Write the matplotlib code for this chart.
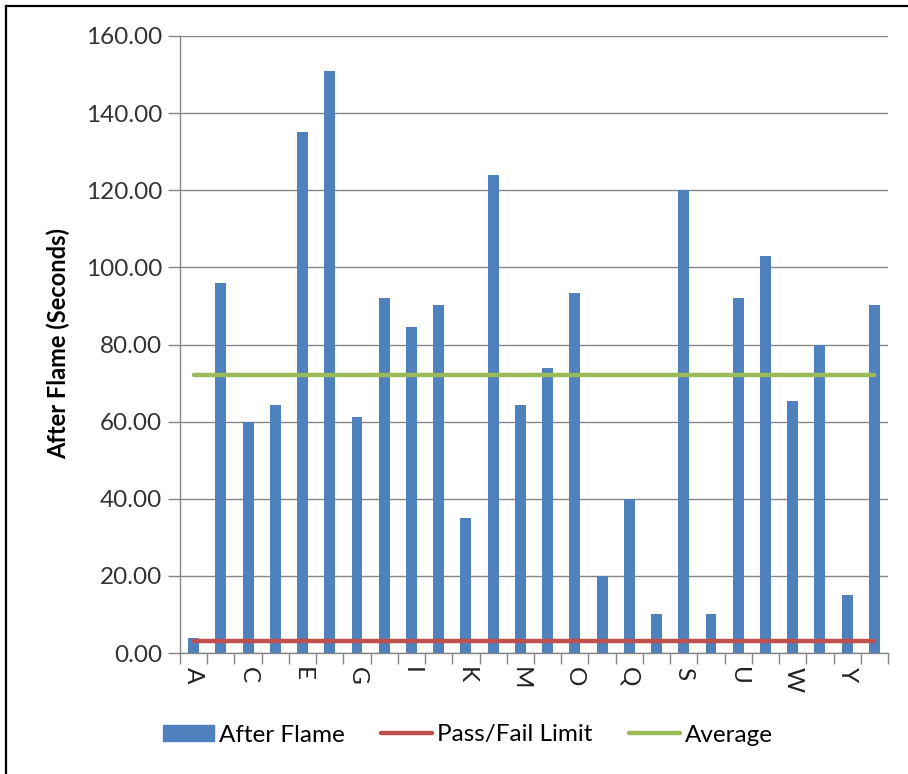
import matplotlib
matplotlib.use("Agg")
import matplotlib.pyplot as plt
from matplotlib.lines import Line2D
from matplotlib.patches import Patch
import numpy as np

plt.rcParams["font.family"] = ["Lato", "DejaVu Sans"]

# data
categories = list("ABCDEFGHIJKLMNOPQRSTUVWXYZ")
after_flame = [4, 96, 60, 64.2, 135, 151, 61.2, 92, 84.6, 90.3,
               35, 124, 64.2, 74, 93.3, 20, 40, 10, 120, 10,
               92, 103, 65.4, 80, 15, 90.3]
pass_fail_limit = 3.0
average = 72.0
yticks = [0, 20, 40, 60, 80, 100, 120, 140, 160]

W, H = 908, 774
fig = plt.figure(figsize=(W / 100, H / 100), dpi=100)
ax = fig.add_axes([180 / W, (H - 653) / H, 708 / W, 617 / H])

x = np.arange(len(categories))
blue, red, green, grey = "#4F81BD", "#C0504D", "#9BBB59", "#868686"
fs = 17.5

ax.bar(x, after_flame, width=0.4, color=blue, zorder=2)
ax.plot([x[0], x[-1]], [pass_fail_limit] * 2, color=red, lw=3.2,
        solid_capstyle="round", zorder=3)
ax.plot([x[0], x[-1]], [average] * 2, color=green, lw=3.2,
        solid_capstyle="round", zorder=3)

ax.set_xlim(-0.5, len(categories) - 0.5)
ax.set_ylim(0, 160)
ax.set_yticks(yticks)
ax.set_yticklabels([f"{v:.2f}" for v in yticks], fontsize=fs, color="#333333")
ax.yaxis.grid(True, color=grey, lw=1)
ax.set_axisbelow(True)
ax.tick_params(axis="y", length=9, color=grey, width=1, pad=4)

# labels on every other category, tick marks between categories
ax.set_xticks(x[::2])
ax.set_xticklabels(categories[::2], rotation=-90, fontsize=fs, color="#222222")
ax.tick_params(axis="x", which="major", length=0, pad=10)
ax.set_xticks(np.arange(-0.5, len(categories), 1), minor=True)
ax.tick_params(axis="x", which="minor", length=8, color=grey, width=1)

for s in ["top", "right"]:
    ax.spines[s].set_visible(False)
for s in ["left", "bottom"]:
    ax.spines[s].set_color(grey)
    ax.spines[s].set_linewidth(1)

fig.text(58 / W, 1 - 343 / H, "After Flame (Seconds)", rotation=90,
         ha="center", va="center", fontsize=17, fontweight="bold")

handles = [Patch(color=blue),
           Line2D([0], [0], color=red, lw=3.2, solid_capstyle="round"),
           Line2D([0], [0], color=green, lw=3.2, solid_capstyle="round")]
fig.legend(handles, ["After Flame", "Pass/Fail Limit", "Average"],
           loc="center", bbox_to_anchor=(468 / W, 1 - 735 / H), ncol=3,
           frameon=False, fontsize=fs, handlelength=2.1, handletextpad=0.2,
           columnspacing=1.5, handleheight=0.6)

# chart border (left and top visible in the reference)
fig.add_artist(Line2D([6 / W, 6 / W], [0, 1 - 6 / H], color="black", lw=1.6,
                      transform=fig.transFigure))
fig.add_artist(Line2D([6 / W, 1], [1 - 6 / H, 1 - 6 / H], color="black", lw=1.6,
                      transform=fig.transFigure))

fig.savefig("out.png", dpi=100)
